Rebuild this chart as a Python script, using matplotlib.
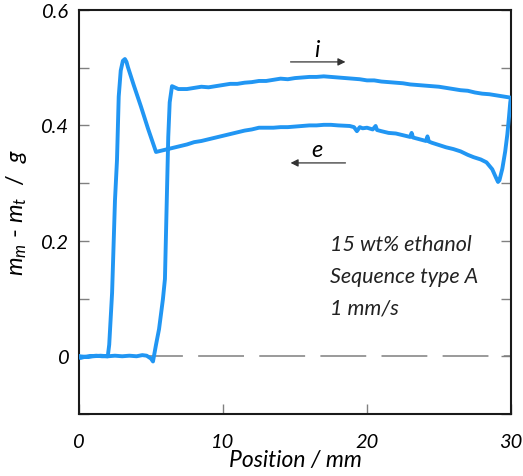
import matplotlib
matplotlib.use("Agg")
import matplotlib.pyplot as plt
from matplotlib.ticker import MultipleLocator, FixedLocator

plt.rcParams["font.family"] = ["Lato", "DejaVu Sans"]
plt.rcParams["mathtext.fontset"] = "custom"
plt.rcParams["mathtext.it"] = "Lato:italic"
plt.rcParams["mathtext.rm"] = "Lato"

# Approach: flat baseline, then jump on contact
approach_x = [0.0, 0.1, 0.4, 0.8, 1.2, 1.6, 2.0, 2.5, 3.0, 3.5, 4.0, 4.4, 4.7, 5.0, 5.14,
              5.35, 5.56, 5.83, 5.97, 6.1, 6.2, 6.3, 6.46]
approach_y = [0.000, -0.003, -0.001, 0.000, 0.001, 0.000, 0.000, 0.001, 0.000, 0.001, 0.000, 0.002,
              0.001, -0.004, -0.009, 0.020, 0.047, 0.099, 0.134, 0.272, 0.380, 0.440, 0.468]

# Immersion branch (i)
immersion_x = [6.9, 7.5, 8.0, 8.5, 9.0, 9.5, 10.0, 10.5, 11.0, 11.5, 12.0, 12.5, 13.0, 13.5,
               14.0, 14.5, 15.0, 15.5, 16.0, 16.5, 17.0, 17.5, 18.0, 18.5, 19.0, 19.5, 20.0,
               20.5, 21.0, 21.5, 22.0, 22.5, 23.0, 23.5, 24.0, 24.5, 25.0, 25.5, 26.0, 26.5,
               27.0, 27.5, 28.0, 28.5, 29.0, 29.5, 30.0]
immersion_y = [0.463, 0.463, 0.465, 0.467, 0.466, 0.468, 0.470, 0.472, 0.472, 0.474, 0.475, 0.477,
               0.477, 0.479, 0.481, 0.480, 0.482, 0.483, 0.484, 0.484, 0.485, 0.484, 0.483,
               0.482, 0.481, 0.480, 0.478, 0.478, 0.476, 0.475, 0.474, 0.473, 0.471, 0.470,
               0.469, 0.468, 0.467, 0.465, 0.463, 0.461, 0.460, 0.457, 0.455, 0.454, 0.452,
               0.450, 0.448]

# Turning point at the end of travel
turn_x = [29.95, 29.86, 29.75, 29.6, 29.4, 29.2, 29.1, 28.95, 28.7, 28.3]
turn_y = [0.440, 0.414, 0.385, 0.355, 0.325, 0.305, 0.302, 0.310, 0.324, 0.336]

# Emersion branch (e)
emersion_x = [27.9, 27.4, 27.0, 26.5, 26.0, 25.5, 25.0, 24.5, 24.3, 24.2, 24.1, 23.5, 23.2, 23.1,
              23.0, 22.5, 22.0, 21.5, 21.0, 20.7, 20.6, 20.4, 20.0, 19.7, 19.5, 19.3, 19.1,
              18.8, 18.0, 17.5, 17.0, 16.5, 16.0, 15.5, 15.0, 14.5, 14.0, 13.5, 13.0, 12.5,
              12.0, 11.5, 11.0, 10.5, 10.0, 9.5, 9.0, 8.5, 8.0, 7.5, 7.0, 6.5, 6.0, 5.35]
emersion_y = [0.341, 0.345, 0.349, 0.355, 0.359, 0.362, 0.366, 0.370, 0.372, 0.381, 0.373, 0.377,
              0.379, 0.387, 0.380, 0.383, 0.386, 0.387, 0.390, 0.392, 0.399, 0.393, 0.396,
              0.395, 0.397, 0.390, 0.397, 0.399, 0.400, 0.401, 0.401, 0.400, 0.400, 0.399,
              0.398, 0.397, 0.397, 0.396, 0.396, 0.396, 0.393, 0.391, 0.388, 0.385, 0.382,
              0.379, 0.376, 0.373, 0.371, 0.367, 0.364, 0.361, 0.358, 0.354]

# Meniscus stretching and detachment
detach_x = [4.8, 4.3, 3.8, 3.4, 3.3, 3.19, 3.05, 2.9, 2.76, 2.64, 2.5, 2.3, 2.1, 2.0, 1.5, 1.0, 0.5, 0.0]
detach_y = [0.394, 0.433, 0.470, 0.501, 0.510, 0.515, 0.512, 0.495, 0.450, 0.340, 0.270, 0.110,
            0.020, 0.000, 0.001, 0.000, -0.001, 0.000]

x_ticks = [0, 10, 20, 30]
y_ticks = [0.0, 0.2, 0.4, 0.6]
y_ticklabels = ["0", "0.2", "0.4", "0.6"]
annotations = ["15 wt% ethanol", "Sequence type A", "1 mm/s"]

curve_x = approach_x + immersion_x + turn_x + emersion_x + detach_x
curve_y = approach_y + immersion_y + turn_y + emersion_y + detach_y

fig = plt.figure(figsize=(5.23, 4.77), dpi=100)
ax = fig.add_axes([0.151, 0.130, 0.826, 0.847])

ax.axhline(0, color="#7f7f7f", lw=1.1, ls=(2, (30, 10)), zorder=1)
ax.plot(curve_x, curve_y, color="#2196F3", lw=2.8, solid_joinstyle="round",
        solid_capstyle="round", zorder=3)

ax.set_xlim(0, 30)
ax.set_ylim(-0.1, 0.6)

ax.xaxis.set_major_locator(FixedLocator(x_ticks))
ax.set_xticklabels([str(t) for t in x_ticks])
ax.yaxis.set_major_locator(FixedLocator(y_ticks))
ax.set_yticklabels(y_ticklabels)
ax.yaxis.set_minor_locator(MultipleLocator(0.1))

ax.tick_params(axis="both", which="both", direction="in", color="#808080",
               labelsize=14.5, width=1.0)
ax.tick_params(axis="y", which="both", length=7, right=True, labelright=False, pad=7)
ax.tick_params(axis="x", which="both", length=7, top=False, pad=14)
for lab in ax.get_xticklabels() + ax.get_yticklabels():
    lab.set_fontstyle("italic")

for sp in ax.spines.values():
    sp.set_linewidth(1.5)
    sp.set_color("#1a1a1a")

ax.set_xlabel("Position / mm", fontsize=16.5, fontstyle="italic", labelpad=-1)
ax.set_ylabel(r"$m_m$ - $m_t$  /  $g$", fontsize=17, labelpad=9)

# direction arrows
ax.annotate("", xy=(18.7, 0.51), xytext=(14.5, 0.51),
            arrowprops=dict(arrowstyle="-|>", color="#333333", lw=0.9, mutation_scale=11))
ax.text(16.5, 0.513, "i", fontsize=17, fontstyle="italic", ha="center", va="bottom")
ax.annotate("", xy=(14.5, 0.335), xytext=(18.7, 0.335),
            arrowprops=dict(arrowstyle="-|>", color="#333333", lw=0.9, mutation_scale=11))
ax.text(16.5, 0.340, "e", fontsize=17, fontstyle="italic", ha="center", va="bottom")

for i, t in enumerate(annotations):
    ax.text(17.4, 0.194 - i * 0.0545, t, fontsize=15.5, fontstyle="italic",
            ha="left", va="center", color="#222222")

fig.savefig("out.png", dpi=100)
